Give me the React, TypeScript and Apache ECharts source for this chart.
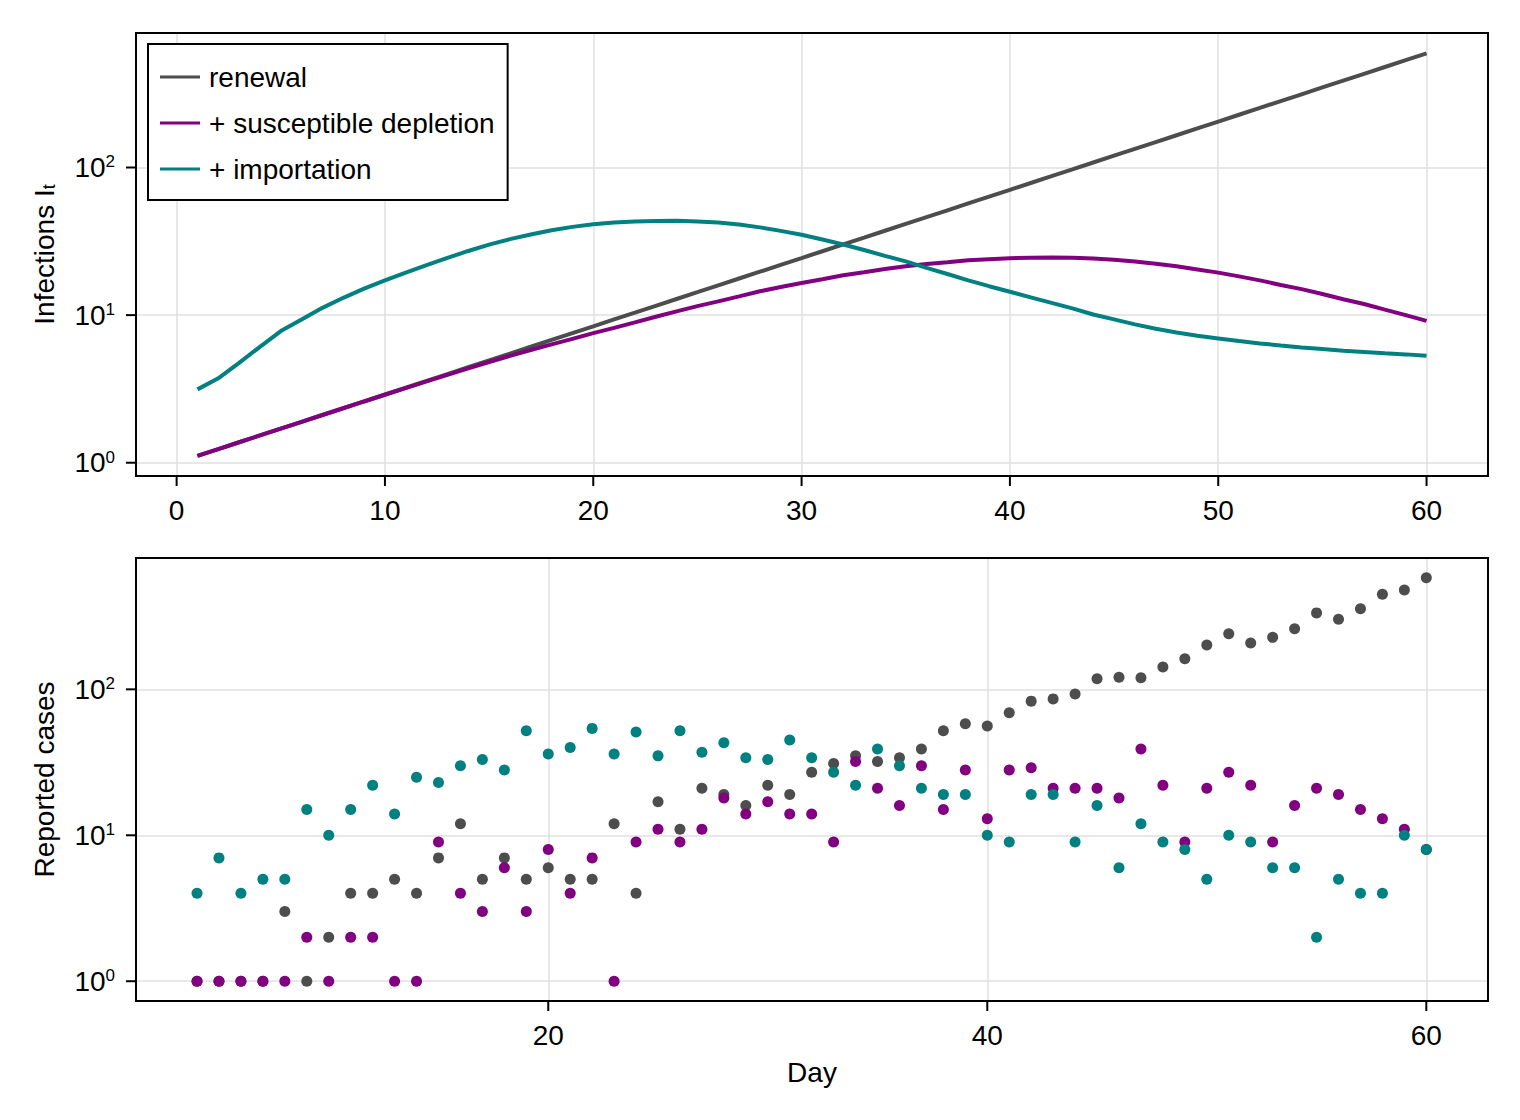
import React, { useEffect, useRef } from "react";
import * as echarts from "echarts";

// ---- data ----
const DAYS = [
  1, 2, 3, 4, 5, 6, 7, 8, 9, 10, 11, 12, 13, 14, 15, 16, 17, 18, 19, 20,
  21, 22, 23, 24, 25, 26, 27, 28, 29, 30, 31, 32, 33, 34, 35, 36, 37, 38, 39, 40,
  41, 42, 43, 44, 45, 46, 47, 48, 49, 50, 51, 52, 53, 54, 55, 56, 57, 58, 59, 60,
];
const RENEWAL = [
  1.112, 1.237, 1.376, 1.53, 1.702, 1.893, 2.106, 2.342, 2.605, 2.898,
  3.223, 3.585, 3.988, 4.436, 4.934, 5.488, 6.104, 6.79, 7.552, 8.4,
  9.344, 10.39, 11.56, 12.86, 14.3, 15.91, 17.7, 19.68, 21.89, 24.35,
  27.09, 30.13, 33.51, 37.28, 41.46, 46.12, 51.3, 57.06, 63.47, 70.6,
  78.53, 87.35, 97.16, 108.1, 120.2, 133.7, 148.7, 165.4, 184.0, 204.7,
  227.7, 253.2, 281.7, 313.3, 348.5, 387.6, 431.2, 479.6, 533.5, 593.4,
];
const SUSCEPTIBLE = [
  1.112, 1.237, 1.376, 1.53, 1.702, 1.893, 2.105, 2.34, 2.6, 2.888,
  3.205, 3.555, 3.94, 4.36, 4.81, 5.29, 5.8, 6.33, 6.9, 7.55,
  8.2, 8.93, 9.75, 10.6, 11.5, 12.4, 13.4, 14.5, 15.5, 16.5,
  17.5, 18.6, 19.5, 20.5, 21.4, 22.2, 22.8, 23.5, 23.9, 24.3,
  24.5, 24.6, 24.5, 24.2, 23.7, 23.1, 22.3, 21.4, 20.4, 19.4,
  18.3, 17.2, 16.0, 15.0, 13.9, 12.8, 11.9, 10.9, 10.0, 9.15,
];
const IMPORTATION = [
  3.14, 3.73, 4.75, 6.1, 7.8, 9.35, 11.2, 13.1, 15.1, 17.2,
  19.4, 21.8, 24.4, 27.2, 30.0, 32.7, 35.2, 37.6, 39.6, 41.3,
  42.4, 43.0, 43.4, 43.5, 43.1, 42.4, 41.1, 39.3, 37.2, 35.0,
  32.5, 30.1, 27.6, 25.2, 23.1, 20.9, 19.0, 17.2, 15.7, 14.4,
  13.2, 12.1, 11.1, 10.1, 9.35, 8.65, 8.08, 7.63, 7.24, 6.95,
  6.67, 6.43, 6.23, 6.04, 5.89, 5.73, 5.62, 5.51, 5.42, 5.3,
];

const CASE_DAYS = [
  4, 5, 6, 7, 8, 9, 10, 11, 12, 13, 14, 15, 16, 17, 18, 19, 20, 21, 22, 23,
  24, 25, 26, 27, 28, 29, 30, 31, 32, 33, 34, 35, 36, 37, 38, 39, 40, 41, 42, 43,
  44, 45, 46, 47, 48, 49, 50, 51, 52, 53, 54, 55, 56, 57, 58, 59, 60,
];
const CASES_RENEWAL = [
  1, 1, 1, 1, 3, 1, 2, 4, 4, 5, 4, 7, 12, 5, 7, 5, 6, 5, 5, 12,
  4, 17, 11, 21, 19, 16, 22, 19, 27, 31, 35, 32, 34, 39, 52, 58, 56, 69, 83, 86,
  93, 118, 121, 120, 142, 162, 201, 240, 208, 227, 260, 334, 302, 357, 448, 480, 582,
];
const CASES_SUSCEPTIBLE = [
  1, 1, 1, 1, 1, 2, 1, 2, 2, 1, 1, 9, 4, 3, 6, 3, 8, 4, 7, 1,
  9, 11, 9, 11, 18, 14, 17, 14, 14, 9, 32, 21, 16, 30, 15, 28, 13, 28, 29, 21,
  21, 21, 18, 39, 22, 9, 21, 27, 22, 9, 16, 21, 19, 15, 13, 11, 8,
];
const CASES_IMPORTATION = [
  4, 7, 4, 5, 5, 15, 10, 15, 22, 14, 25, 23, 30, 33, 28, 52, 36, 40, 54, 36,
  51, 35, 52, 37, 43, 34, 33, 45, 34, 27, 22, 39, 30, 21, 19, 19, 10, 9, 19, 19,
  9, 16, 6, 12, 9, 8, 5, 10, 9, 6, 6, 2, 5, 4, 4, 10, 8,
];

const SERIES_NAMES = ["renewal", "+ susceptible depletion", "+ importation"];
const COLORS = ["#4d4d4d", "#800080", "#008080"];
const TOP_X_TICKS = [0, 10, 20, 30, 40, 50, 60];
const BOTTOM_X_TICKS = [20, 40, 60];
const Y_TICKS = [1, 10, 100];

const FONT = "'Liberation Sans', Arial, Helvetica, sans-serif";
const FS = 28;
const TICK_LEN = 10;
const TICK_W = 2;

function pairs(xs: number[], ys: number[]) {
  return xs.map((x, i) => [x, ys[i]]);
}

function powLabel(v: number) {
  const e = Math.log10(v);
  const r = Math.round(e);
  if (Math.abs(e - r) > 1e-6) return "";
  return "{b|10}{s|" + r + "}";
}

const gridBase = {
  show: true,
  borderColor: "#000",
  borderWidth: 2,
  backgroundColor: "transparent",
  containLabel: false,
  outerBoundsMode: "none",
  z: 10,
};

const splitLine = { show: true, lineStyle: { color: "#e0e0e0", width: 1.5 } };
const axisLine = { show: false, onZero: false };
const axisTick = { show: false };
const xLabel = (vals: number[]) => ({
  show: true,
  customValues: vals,
  margin: 20,
  color: "#000",
  fontSize: FS,
  fontFamily: FONT,
});
const yLabel = {
  show: true,
  customValues: Y_TICKS,
  margin: 21,
  color: "#000",
  fontSize: FS,
  fontFamily: FONT,
  formatter: powLabel,
  rich: {
    b: { fontSize: FS, fontFamily: FONT, color: "#000" },
    s: { fontSize: 17, fontFamily: FONT, color: "#000", verticalAlign: "top" },
  },
};

export default function App() {
  const ref = useRef<HTMLDivElement>(null);
  useEffect(() => {
    if (!ref.current) return;
    const chart = echarts.init(ref.current, undefined, { renderer: "svg" });
    const lineData = [RENEWAL, SUSCEPTIBLE, IMPORTATION];
    const caseData = [CASES_RENEWAL, CASES_SUSCEPTIBLE, CASES_IMPORTATION];
    const option: any = {
      animation: false,
      backgroundColor: "#fff",
      textStyle: { fontFamily: FONT },
      grid: [
        { ...gridBase, left: 136, top: 33, width: 1352, height: 443 },
        { ...gridBase, left: 136, top: 558, width: 1352, height: 443 },
      ],
      legend: {
        data: SERIES_NAMES,
        orient: "vertical",
        left: 148,
        top: 44,
        padding: [19, 13, 17, 12],
        itemGap: 18,
        itemWidth: 40,
        itemHeight: 3,
        icon: "rect",
        borderColor: "#000",
        borderWidth: 2,
        backgroundColor: "#fff",
        selectedMode: false,
        textStyle: { fontSize: FS, fontFamily: FONT, color: "#000", padding: [0, 0, 0, 4] },
        z: 40,
      },
      xAxis: [
        {
          type: "value",
          gridIndex: 0,
          position: "bottom",
          min: -1.95,
          max: 62.95,
          splitNumber: 5,
          axisLine,
          axisTick,
          axisLabel: xLabel(TOP_X_TICKS),
          splitLine,
        },
        {
          type: "value",
          gridIndex: 1,
          position: "bottom",
          min: 1.22,
          max: 62.81,
          splitNumber: 3,
          axisLine,
          axisTick,
          axisLabel: xLabel(BOTTOM_X_TICKS),
          splitLine,
          name: "Day",
          nameLocation: "middle",
          nameGap: 57,
          nameTextStyle: { fontSize: FS, fontFamily: FONT, color: "#000" },
        },
      ],
      yAxis: [
        {
          type: "log",
          logBase: 10,
          gridIndex: 0,
          position: "left",
          min: 0.813,
          max: 815,
          splitNumber: 3,
          axisLine,
          axisTick,
          axisLabel: yLabel,
          splitLine,
          name: "{n|Infections I}{t|t}",
          nameLocation: "middle",
          nameRotate: 90,
          nameGap: 78,
          nameTextStyle: {
            color: "#000",
            fontFamily: FONT,
            fontSize: FS,
            rich: {
              n: { fontSize: FS, fontFamily: FONT, color: "#000" },
              t: { fontSize: 18, fontFamily: FONT, color: "#000", verticalAlign: "bottom" },
            },
          },
        },
        {
          type: "log",
          logBase: 10,
          gridIndex: 1,
          position: "left",
          min: 0.732,
          max: 794,
          splitNumber: 3,
          axisLine,
          axisTick,
          axisLabel: yLabel,
          splitLine,
          name: "Reported cases",
          nameLocation: "middle",
          nameRotate: 90,
          nameGap: 78,
          nameTextStyle: { fontSize: FS, fontFamily: FONT, color: "#000" },
        },
      ],
      series: [
        ...SERIES_NAMES.map((name, i) => ({
          type: "line",
          name,
          xAxisIndex: 0,
          yAxisIndex: 0,
          data: pairs(DAYS, lineData[i]),
          showSymbol: false,
          symbol: "none",
          silent: true,
          lineStyle: { color: COLORS[i], width: 4 },
          itemStyle: { color: COLORS[i] },
          z: 2 + i,
        })),
        ...SERIES_NAMES.map((name, i) => ({
          type: "scatter",
          name: "cases " + name,
          xAxisIndex: 1,
          yAxisIndex: 1,
          data: pairs(CASE_DAYS, caseData[i]),
          symbol: "circle",
          symbolSize: 11,
          silent: true,
          itemStyle: { color: COLORS[i], opacity: 1 },
          z: 2 + i,
        })),
      ],
    };
    chart.setOption(option);

    // tick marks as small filled rects, positioned through the axes' own scales
    const ticks: any[] = [];
    const grids = [
      { idx: 0, xt: TOP_X_TICKS },
      { idx: 1, xt: BOTTOM_X_TICKS },
    ];
    grids.forEach(({ idx, xt }) => {
      const finder: any = { xAxisIndex: idx, yAxisIndex: idx };
      const rect = (chart as any).getModel().getComponent("grid", idx).coordinateSystem.getRect();
      const bottom = rect.y + rect.height;
      xt.forEach((t) => {
        const p = chart.convertToPixel(finder, [t, Y_TICKS[0]]) as number[];
        if (!p || !isFinite(p[0])) return;
        ticks.push({
          type: "rect",
          silent: true,
          z: 100,
          shape: { x: p[0] - TICK_W / 2, y: bottom, width: TICK_W, height: TICK_LEN },
          style: { fill: "#000" },
        });
      });
      Y_TICKS.forEach((t) => {
        const p = chart.convertToPixel(finder, [xt[0], t]) as number[];
        if (!p || !isFinite(p[1])) return;
        ticks.push({
          type: "rect",
          silent: true,
          z: 100,
          shape: { x: rect.x - TICK_LEN, y: p[1] - TICK_W / 2, width: TICK_LEN, height: TICK_W },
          style: { fill: "#000" },
        });
      });
    });
    chart.setOption({ graphic: { elements: ticks } });

    return () => chart.dispose();
  }, []);
  return (
    <div
      ref={ref}
      style={{ position: "absolute", left: 0, top: 0, width: 1520, height: 1120, background: "#fff" }}
    />
  );
}
